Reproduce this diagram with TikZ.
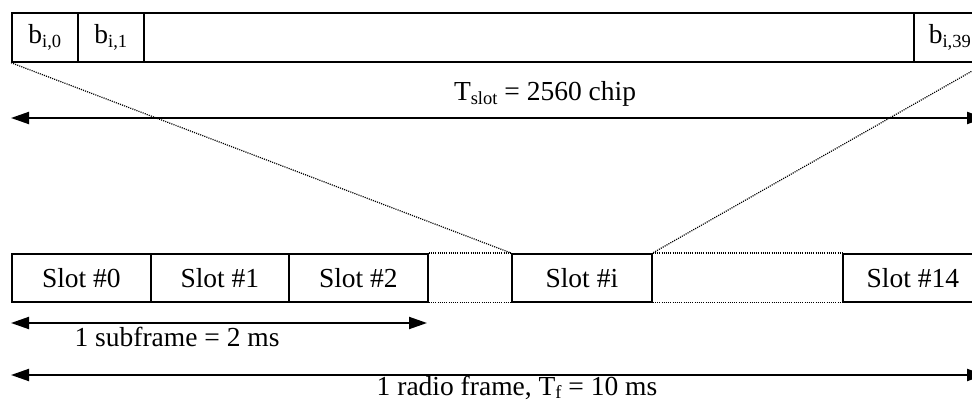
\documentclass[tikz,border=0pt]{standalone}
\usepackage{fontspec}
\setmainfont{Liberation Serif}
\usetikzlibrary{arrows.meta}
\newcommand\mysubtxt[1]{\raisebox{-0.13em}{\fontsize{18.5}{19}\selectfont #1}}
\begin{document}
\begin{tikzpicture}[x=1pt,y=-1pt,
  cell/.style={draw, line width=1.7pt, minimum height=49pt, inner sep=0pt,
    font=\fontsize{27.5}{30}\selectfont, anchor=north west},
  lbl/.style={inner sep=0pt, font=\fontsize{27.5}{30}\selectfont, anchor=base},
  dimarrow/.style={line width=2pt, {Triangle[length=18pt,width=12pt]}-{Triangle[length=18pt,width=12pt]}},
  dotline/.style={line width=1.2pt, dash pattern=on 1.1pt off 1.1pt}]
\useasboundingbox (0,0) rectangle (972,403);
\clip (0,0) rectangle (972,403);
% top bar
\node[cell, minimum width=66pt] (b0) at (11,12) {b\mysubtxt{i,0}};
\node[cell, minimum width=66pt] (b1) at (77,12) {b\mysubtxt{i,1}};
\node[cell, minimum width=770pt] (bmid) at (143,12) {};
\node[cell, minimum width=72pt] (b39) at (913,12) {b\mysubtxt{i,39}};
% slots
\node[cell, minimum width=139pt, minimum height=48pt] (s0) at (11,253) {Slot \#0};
\node[cell, minimum width=138pt, minimum height=48pt] (s1) at (150,253) {Slot \#1};
\node[cell, minimum width=139pt, minimum height=48pt] (s2) at (288,253) {Slot \#2};
\node[cell, minimum width=140pt, minimum height=48pt] (si) at (511,253) {Slot \#i};
\node[cell, minimum width=140pt, minimum height=48pt] (s14) at (842,253) {Slot \#14};
% dotted connectors
\draw[dotline] (b0.south west) -- (si.north west);
\draw[dotline] (b39.south east) -- (si.north east);
\draw[dotline] (s2.north east) -- (si.north west);
\draw[dotline] (s2.south east) -- (si.south west);
\draw[dotline] (si.north east) -- (s14.north west);
\draw[dotline] (si.south east) -- (s14.south west);
% dimension arrows
\coordinate (tsL) at (11,118);
\coordinate (tsR) at (985,118);
\draw[dimarrow] (tsL) -- (tsR);
\node[lbl] (tslbl) at (545,101) {T\mysubtxt{slot} = 2560 chip};
\coordinate (sfL) at (11,323);
\coordinate (sfR) at (427,323);
\draw[dimarrow] (sfL) -- (sfR);
\node[lbl] (sflbl) at (177,347) {1 subframe = 2 ms};
\coordinate (rfL) at (11,375);
\coordinate (rfR) at (985,375);
\draw[dimarrow] (rfL) -- (rfR);
\node[lbl] (rflbl) at (517,395) {1 radio frame, T\mysubtxt{f} = 10 ms};
\end{tikzpicture}
\end{document}
